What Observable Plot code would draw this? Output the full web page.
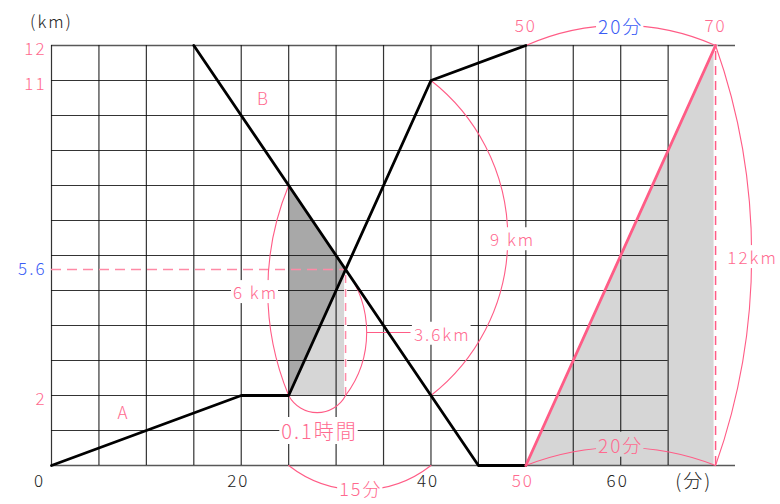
<!DOCTYPE html>
<html>
<head>
<meta charset="utf-8">
<script src="https://cdn.jsdelivr.net/npm/d3@7"></script>
<script src="https://cdn.jsdelivr.net/npm/@observablehq/plot@0.6"></script>
<style>
  body { margin: 0; background: #fff; }
</style>
</head>
<body>
<div id="chart"></div>
<script>
// Walker A: elapsed time (min) and distance from start (km)
const aTime = [0, 20, 25, 40, 50];
const aDist = [0, 2, 2, 11, 12];
// Walker B: leaves the far end at 15 min, arrives at 45 min
const bTime = [15, 45, 50];
const bDist = [12, 0, 0];
// Third traveller: sets out at 50 min, covers 12 km in 20 min
const cTime = [50, 70];
const cDist = [0, 12];
// Where A and B pass each other
const meetTime = 31;
const meetDist = 5.6;
// A's restart time and B's distance at that moment
const restartTime = 25;
const restartDist = 2;
const bAtRestart = 8;

// Tick labels
const yTickValues = [12, 11, 2];
const xTickValues = [20, 40, 50, 60];

// Grid
const gridTimes = [0, 5, 10, 15, 20, 25, 30, 35, 40, 45, 50, 55, 60, 65];
const gridDists = [1, 2, 3, 4, 5, 6, 7, 8, 9, 10, 11];
const xMax = 72.1;

const PINK = "#ff5c86";
const PINK_TEXT = "#ff6a8f";
const PINK_DASH = "#ff8aa6";
const BLUE = "#3a5cf5";
const INK = "#222";
const SHADE = "#d6d6d6";
const SHADE_DARK = "#a8a8a8";

const pts = (xs, ys) => xs.map((x, i) => ({x, y: ys[i]}));
const A = pts(aTime, aDist);
const B = pts(bTime, bDist);
const C = pts(cTime, cDist);

// Brace-like arc between two points of the chart
const arc = (x1, y1, x2, y2, bend) =>
  Plot.arrow([{x1, y1, x2, y2}], {
    x1: "x1", y1: "y1", x2: "x2", y2: "y2",
    bend, headLength: 0, stroke: PINK, strokeWidth: 1.1
  });

// Text that sits on a solid box (the box is added once the SVG is in the page)
const boxed = (text, x, y, fill, box = "white", extra = {}) =>
  Plot.text([{text, x, y}], {
    x: "x", y: "y", text: "text", fill, fontSize: 17,
    ariaDescription: "box:" + box, ...extra
  });

const plain = (text, x, y, fill, extra = {}) =>
  Plot.text([{text, x, y}], {
    x: "x", y: "y", text: "text", fill, fontSize: 17, ...extra
  });

const kanji = {fontSize: 19, letterSpacing: "3px"};

const chart = Plot.plot({
  width: 780,
  height: 504,
  marginLeft: 51,
  marginRight: 45,
  marginTop: 45,
  marginBottom: 39,
  x: {domain: [0, xMax], axis: null},
  y: {domain: [0, 12], axis: null},
  style: {
    fontFamily: "'Noto Sans CJK JP', 'Noto Sans', sans-serif",
    fontWeight: 300,
    letterSpacing: "2px",
    background: "white",
    overflow: "visible"
  },
  marks: [
    // shaded regions
    Plot.areaY(C, {x: "x", y1: 0, y2: "y", fill: SHADE}),
    Plot.areaY(
      [{x: restartTime, lo: restartDist, hi: restartDist}, {x: meetTime, lo: restartDist, hi: meetDist}],
      {x: "x", y1: "lo", y2: "hi", fill: SHADE}
    ),
    Plot.areaY(
      [{x: restartTime, lo: restartDist, hi: bAtRestart}, {x: meetTime, lo: meetDist, hi: meetDist}],
      {x: "x", y1: "lo", y2: "hi", fill: SHADE_DARK}
    ),

    // grid
    Plot.ruleX(gridTimes, {y1: 0, y2: 12, stroke: "#111", strokeWidth: 1.2, strokeOpacity: 0.85}),
    Plot.ruleY(gridDists, {x1: 0, x2: 65, stroke: "#111", strokeWidth: 1.2, strokeOpacity: 0.85}),
    Plot.ruleY([0, 12], {x1: 0, x2: xMax, stroke: "#111", strokeWidth: 1.5, strokeOpacity: 0.7}),

    // dashed guides
    Plot.ruleY([meetDist], {x1: 0, x2: meetTime, stroke: PINK_DASH, strokeWidth: 1.4, strokeDasharray: "10,6"}),
    Plot.ruleX([meetTime], {y1: restartDist, y2: meetDist, stroke: "white", strokeWidth: 3}),
    Plot.ruleX([meetTime], {y1: restartDist, y2: meetDist, stroke: PINK_DASH, strokeWidth: 1.5, strokeDasharray: "8,6"}),
    Plot.ruleX([cTime[1]], {y1: 0, y2: 12, stroke: "white", strokeWidth: 4}),
    Plot.ruleX([cTime[1]], {y1: 0, y2: 12, stroke: PINK, strokeWidth: 1.5, strokeDasharray: "9,6"}),

    // measurement arcs
    arc(cTime[0], 12, cTime[1], 12, 24),
    arc(cTime[1], 12, cTime[1], 0, 19.5),
    arc(40, 11, 40, 2, 52),
    arc(restartTime, bAtRestart, restartTime, restartDist, -22.5),
    arc(meetTime, meetDist, meetTime, restartDist, 37),
    arc(restartTime, restartDist, meetTime, restartDist, -62),
    arc(restartTime, 0, 40, 0, -38),
    arc(cTime[0], 0, cTime[1], 0, 21.5),
    Plot.ruleY([(meetDist + restartDist) / 2], {x1: 33.3, x2: 37.9, stroke: PINK, strokeWidth: 1.1}),

    // travel graphs
    Plot.line(A, {x: "x", y: "y", stroke: "#000", strokeWidth: 2.8}),
    Plot.line(B, {x: "x", y: "y", stroke: "#000", strokeWidth: 2.8}),
    Plot.line(C, {x: "x", y: "y", stroke: PINK, strokeWidth: 2.8}),

    // axis labels
    plain("(km)", 0, 12, INK, {dy: -23}),
    Plot.text(yTickValues, {x: 0, y: d => d, text: d => String(d), fill: PINK_TEXT, fontSize: 17, textAnchor: "end", dx: -5, dy: 4}),
    plain(String(meetDist), 0, meetDist, BLUE, {textAnchor: "end", dx: -5}),
    plain("0", 0, 0, INK, {dx: -12, dy: 16}),
    Plot.text(xTickValues, {x: d => d, y: 0, text: d => String(d), fill: d => d === cTime[0] ? PINK_TEXT : INK, fontSize: 17, dx: -3, dy: 16}),
    plain("(分)", 67.7, 0, INK, {dy: 16, fontSize: 19, letterSpacing: "5px"}),

    // top labels
    plain(String(cTime[0]), cTime[0], 12, PINK_TEXT, {dy: -19}),
    plain(String(cTime[1]), cTime[1], 12, PINK_TEXT, {dy: -19}),
    boxed("20分", 60, 12, BLUE, "white", {dy: -18, ...kanji}),

    // series names
    plain("A", 7.6, 1.48, PINK_TEXT),
    plain("B", 22.35, 10.45, PINK_TEXT),

    // measurement labels
    boxed("9 km", 48.6, 6.42, PINK_TEXT),
    boxed("12km", 73.9, 5.91, PINK_TEXT),
    boxed("6 km", 21.5, 4.91, PINK_TEXT),
    boxed("3.6km", 38.2, 3.72, PINK_TEXT, "white", {textAnchor: "start"}),
    boxed("0.1時間", 28.25, 0.94, PINK_TEXT, "white", {fontSize: 20, letterSpacing: "4px"}),
    boxed("15分", 32.6, -0.7, PINK_TEXT, "white", {fontSize: 18, letterSpacing: "3px"}),
    boxed("20分", 60, 0.54, PINK_TEXT, SHADE, kanji)
  ]
});

document.getElementById("chart").appendChild(chart);

// Put a solid box behind each boxed label so it interrupts the lines beneath it
chart.querySelectorAll('g[aria-description^="box:"]').forEach(g => {
  const fill = g.getAttribute("aria-description").slice(4);
  g.querySelectorAll("text").forEach(t => {
    const b = t.getBBox();
    const r = document.createElementNS("http://www.w3.org/2000/svg", "rect");
    r.setAttribute("x", b.x - 2);
    r.setAttribute("y", b.y + 1);
    r.setAttribute("width", b.width + 2);
    r.setAttribute("height", b.height - 2);
    r.setAttribute("fill", fill);
    if (t.getAttribute("transform")) r.setAttribute("transform", t.getAttribute("transform"));
    g.insertBefore(r, t);
  });
});
</script>
</body>
</html>
